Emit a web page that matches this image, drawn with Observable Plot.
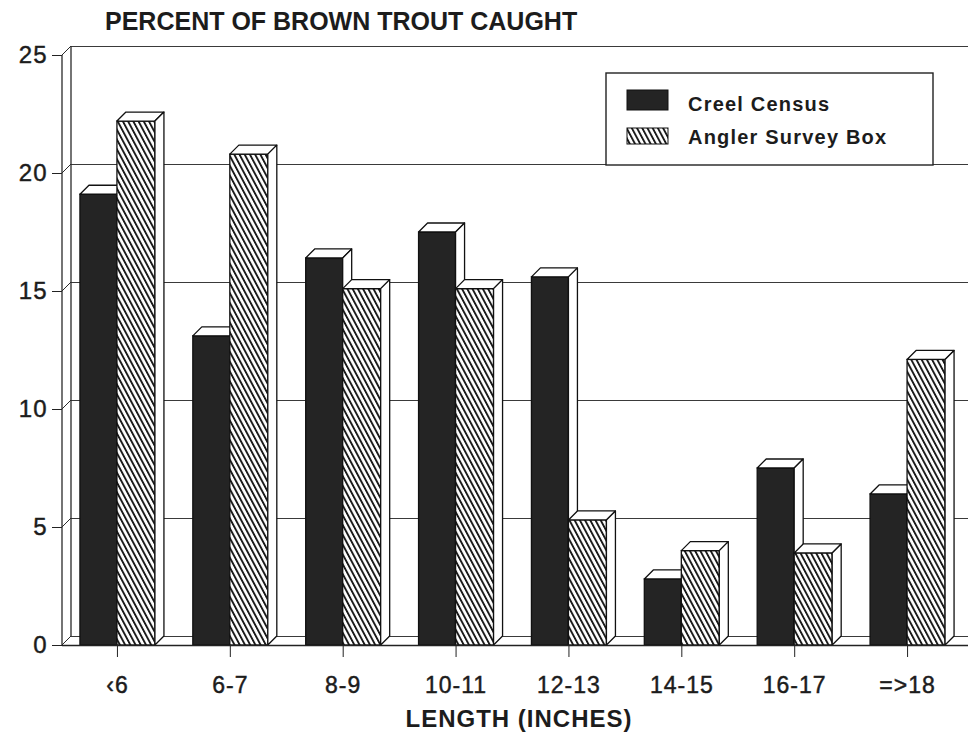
<!DOCTYPE html>
<html>
<head>
<meta charset="utf-8">
<script src="https://cdn.jsdelivr.net/npm/d3@7"></script>
<script src="https://cdn.jsdelivr.net/npm/@observablehq/plot@0.6"></script>
<style>
  body { margin: 0; background: #ffffff; }
  #chart { width: 968px; height: 733px; overflow: hidden; }
  svg { font-family: "Liberation Sans", Arial, Helvetica, sans-serif; }
  g[aria-label="y-axis tick label"] text, g[aria-label="x-axis tick label"] text {
    letter-spacing: 1px; stroke: #1c1c1c; stroke-width: 0.45px;
  }
</style>
</head>
<body>
<div id="chart"></div>
<script>
// ---- data ----
const categories = ["‹6", "6-7", "8-9", "10-11", "12-13", "14-15", "16-17", "=>18"];
const creelCensus = [19.1, 13.1, 16.4, 17.5, 15.6, 2.8, 7.5, 6.4];
const anglerSurveyBox = [22.2, 20.8, 15.1, 15.1, 5.3, 4.0, 3.9, 12.1];
const yTicks = [0, 5, 10, 15, 20, 25];
const seriesNames = ["Creel Census", "Angler Survey Box"];
const titleText = "PERCENT OF BROWN TROUT CAUGHT";
const xLabelText = "LENGTH (INCHES)";

const creel = categories.map((c, i) => ({cat: c, value: creelCensus[i], series: seriesNames[0]}));
const angler = categories.map((c, i) => ({cat: c, value: anglerSurveyBox[i], series: seriesNames[1]}));

const W = 968, H = 733;
const xRange = [60.5, 963.5];
const bw = (xRange[1] - xRange[0]) / categories.length;
const creelW = 37, anglerW = 38;
const DX = 9, DY = -9;
const ink = "#1c1c1c";

const plot = Plot.plot({
  width: W, height: H,
  marginLeft: 62, marginRight: 0, marginTop: 55, marginBottom: 88,
  style: {background: "#ffffff", color: ink, overflow: "visible", fontFamily: '"Liberation Sans", Arial, Helvetica, sans-serif'},
  x: {type: "band", domain: categories, range: xRange, padding: 0, round: false, label: null},
  y: {domain: [0, 25], label: null},
  marks: [
    Plot.ruleY(yTicks, {dx: DX, dy: DY, stroke: "#3a3a3a", strokeWidth: 1.2}),
    Plot.barY(creel, {x: "cat", y: "value", fill: "#242424", stroke: "#111", strokeWidth: 1.3,
      insetLeft: bw / 2 - creelW, insetRight: bw / 2}),
    Plot.barY(angler, {x: "cat", y: "value", fill: "url(#hatch)", stroke: "#111", strokeWidth: 1.3,
      insetLeft: bw / 2, insetRight: bw / 2 - anglerW}),
    Plot.ruleY([0], {stroke: "#222", strokeWidth: 1.6}),
    Plot.axisY({ticks: yTicks, tickSize: 10, tickPadding: 5, fontSize: 24, stroke: "#222"}),
    Plot.axisX({tickSize: 12, tickPadding: 19, fontSize: 23, stroke: "#222", label: null})
  ]
});

document.getElementById("chart").appendChild(plot);

const svg = d3.select(plot);
const xs = plot.scale("x"), ys = plot.scale("y");
const X = xs.apply ? (v) => xs.apply(v) : d3.scaleBand(xs.domain, xs.range).padding(0);
const Y = ys.apply ? (v) => ys.apply(v) : d3.scaleLinear(ys.domain, ys.range);

// hatch pattern
const defs = svg.insert("defs", ":first-child");
const pat = defs.append("pattern").attr("id", "hatch").attr("patternUnits", "userSpaceOnUse")
  .attr("width", 4.6).attr("height", 10).attr("patternTransform", "rotate(-28)");
pat.append("rect").attr("width", 4.6).attr("height", 10).attr("fill", "#fff");
pat.append("rect").attr("width", 1.9).attr("height", 10).attr("fill", "#1a1a1a");

const barGroups = plot.querySelectorAll('g[aria-label="bar"]');
const creelG = barGroups[0], anglerG = barGroups[1];

// back wall / left wall decoration (behind bars)
const y0 = Y(0), yTop = Y(25), xL = 62;
const back = d3.create("svg:g").attr("fill", "none").attr("stroke", "#2a2a2a").attr("stroke-width", 1.3);
back.append("line").attr("x1", xL).attr("y1", y0).attr("x2", xL).attr("y2", yTop);
back.append("line").attr("x1", xL + DX).attr("y1", y0 + DY).attr("x2", xL + DX).attr("y2", yTop + DY);
yTicks.forEach(v => {
  back.append("line").attr("x1", xL).attr("y1", Y(v)).attr("x2", xL + DX).attr("y2", Y(v) + DY)
    .attr("stroke-width", 1);
});
creelG.parentNode.insertBefore(back.node(), creelG);

function faces(data, leftOff, width) {
  const g = d3.create("svg:g").attr("fill", "#fff").attr("stroke", "#111").attr("stroke-width", 1.3)
    .attr("stroke-linejoin", "round");
  data.forEach(d => {
    const c = X(d.cat) + bw / 2;
    const xl = c + leftOff, xr = xl + width, yt = Y(d.value);
    g.append("path").attr("d", `M${xl},${yt}L${xl + DX},${yt + DY}L${xr + DX},${yt + DY}L${xr},${yt}Z`);
    g.append("path").attr("d", `M${xr},${yt}L${xr + DX},${yt + DY}L${xr + DX},${y0 + DY}L${xr},${y0}Z`);
  });
  return g.node();
}
anglerG.parentNode.insertBefore(faces(creel, -creelW, creelW), anglerG);
anglerG.parentNode.insertBefore(faces(angler, 0, anglerW), anglerG.nextSibling);

// title and x label
svg.append("text").attr("x", 105).attr("y", 30).attr("text-anchor", "start").attr("font-size", 25)
  .attr("font-weight", "bold").attr("fill", ink).text(titleText);
svg.append("text").attr("x", 519).attr("y", 727).attr("text-anchor", "middle").attr("font-size", 24)
  .attr("font-weight", "bold").attr("letter-spacing", 1).attr("fill", ink).text(xLabelText);

// legend
const lg = svg.append("g");
lg.append("rect").attr("x", 606).attr("y", 73).attr("width", 327).attr("height", 92)
  .attr("fill", "#fff").attr("stroke", "#222").attr("stroke-width", 1.4);
lg.append("rect").attr("x", 627).attr("y", 90).attr("width", 41).attr("height", 20)
  .attr("fill", "#242424").attr("stroke", "#111");
lg.append("rect").attr("x", 627).attr("y", 128).attr("width", 41).attr("height", 16)
  .attr("fill", "url(#hatch)").attr("stroke", "#111");
lg.append("text").attr("x", 688).attr("y", 111).attr("text-anchor", "start").attr("font-size", 20)
  .attr("font-weight", "bold").attr("letter-spacing", 1.2).attr("fill", ink).text(seriesNames[0]);
lg.append("text").attr("x", 688).attr("y", 144).attr("text-anchor", "start").attr("font-size", 20)
  .attr("font-weight", "bold").attr("letter-spacing", 1.2).attr("fill", ink).text(seriesNames[1]);
</script>
</body>
</html>
